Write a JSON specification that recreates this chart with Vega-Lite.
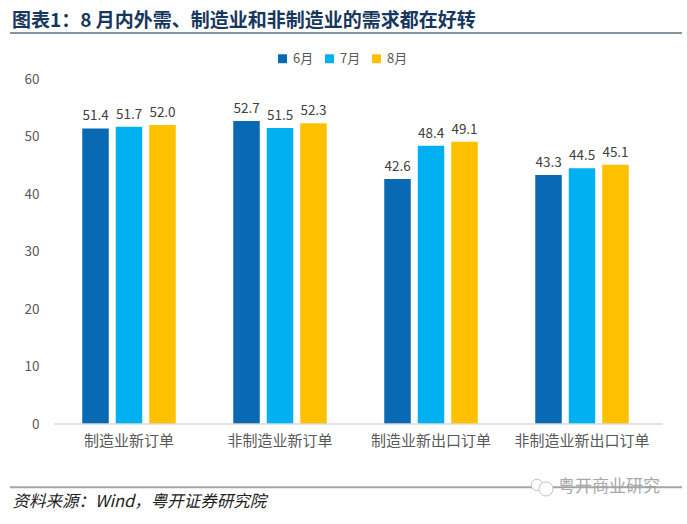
{
"$schema":"https://vega.github.io/schema/vega-lite/v6.json",
"width":609,"height":345,
"autosize":{"type":"none"},
"padding":{"left":54,"top":79,"right":24,"bottom":100},
"background":"white",
"config":{"font":"Noto Sans CJK SC","view":{"stroke":null}},
"title":{"text":"图表1\uff1a8 月内外需、制造业和非制造业的需求都在好转","anchor":"start","frame":"group","dx":-42,"offset":1,"fontSize":19,"fontWeight":"bold","color":"#17375E","font":"Noto Sans CJK SC"},
"data":{"values":[
{"cat":"制造业新订单","month":"6月","v":51.4},{"cat":"制造业新订单","month":"7月","v":51.7},{"cat":"制造业新订单","month":"8月","v":52.0},
{"cat":"非制造业新订单","month":"6月","v":52.7},{"cat":"非制造业新订单","month":"7月","v":51.5},{"cat":"非制造业新订单","month":"8月","v":52.3},
{"cat":"制造业新出口订单","month":"6月","v":42.6},{"cat":"制造业新出口订单","month":"7月","v":48.4},{"cat":"制造业新出口订单","month":"8月","v":49.1},
{"cat":"非制造业新出口订单","month":"6月","v":43.3},{"cat":"非制造业新出口订单","month":"7月","v":44.5},{"cat":"非制造业新出口订单","month":"8月","v":45.1}
]},
"encoding":{
"x":{"field":"cat","type":"nominal","sort":null,"scale":{"range":[-0.5,603.5],"paddingInner":0,"paddingOuter":0},
"axis":{"title":"资料来源\uff1aWind\uff0c粤开证券研究院","titleFontSize":16.5,"titleFontStyle":"italic","titleFontWeight":"normal","titleColor":"#222222","titleX":-42,"titleY":69,"titleAlign":"left","titleAnchor":"start","labelAngle":0,"labelFontSize":15,"labelColor":"#595959","labelPadding":9,"ticks":false,"domain":false,"labelLimit":200}},
"y":{"type":"quantitative"}
},
"layer":[
{"mark":{"type":"bar","width":26.5},
"encoding":{
"xOffset":{"field":"month","type":"nominal","scale":{"paddingInner":0.21,"paddingOuter":0.859}},
"y":{"field":"v","type":"quantitative","scale":{"domain":[0,60]},"axis":{"title":null,"values":[0,10,20,30,40,50,60],"grid":false,"domain":false,"ticks":false,"labelFontSize":13.5,"labelColor":"#595959","labelPadding":15}},
"color":{"field":"month","type":"nominal","scale":{"domain":["6月","7月","8月"],"range":["#0969B2","#00B0F0","#FFC000"]},
"legend":{"title":null,"orient":"none","legendX":222,"legendY":-27,"direction":"horizontal","symbolType":"square","symbolSize":80,"labelFontSize":13,"labelColor":"#595959","columnPadding":9,"labelOffset":4}}
}},
{"mark":{"type":"text","dy":-12,"fontSize":13.5,"color":"#404040"},
"encoding":{
"xOffset":{"field":"month","type":"nominal","scale":{"paddingInner":0.21,"paddingOuter":0.859}},
"y":{"field":"v","type":"quantitative"},
"text":{"field":"v","type":"quantitative","format":".1f"}
}},
{"data":{"values":[{"y":0}]},
"mark":{"type":"rule","color":"#D9D9D9","strokeWidth":1.5},
"encoding":{"x":{"value":0},"x2":{"value":609},"y":{"field":"y","type":"quantitative"}}},
{"data":{"values":[{"y":68}]},
"mark":{"type":"rule","color":"#5F6F7F","strokeWidth":1.5},
"encoding":{"x":{"value":-44},"x2":{"value":628},"y":{"field":"y","type":"quantitative"}}},
{"data":{"values":[{"y":-11}]},
"mark":{"type":"rule","color":"#A6A6A6","strokeWidth":2},
"encoding":{"x":{"value":-44},"x2":{"value":628},"y":{"field":"y","type":"quantitative"}}},
{"data":{"values":[{"y":-10.6}]},
"mark":{"type":"point","shape":"circle","size":130,"filled":false,"fill":"white","fillOpacity":1,"stroke":"#C4C4C4","strokeWidth":1},
"encoding":{"x":{"value":483},"y":{"field":"y","type":"quantitative"}}},
{"data":{"values":[{"y":-11.3}]},
"mark":{"type":"point","shape":"circle","size":200,"filled":false,"fill":"white","fillOpacity":1,"stroke":"#C4C4C4","strokeWidth":1},
"encoding":{"x":{"value":492},"y":{"field":"y","type":"quantitative"}}},
{"data":{"values":[{"y":-11,"t":"粤开商业研究"}]},
"mark":{"type":"text","align":"left","fontSize":17,"color":"#A0A0A0","opacity":0.9},
"encoding":{"x":{"value":504},"y":{"field":"y","type":"quantitative"},"text":{"field":"t"}}}
]
}
